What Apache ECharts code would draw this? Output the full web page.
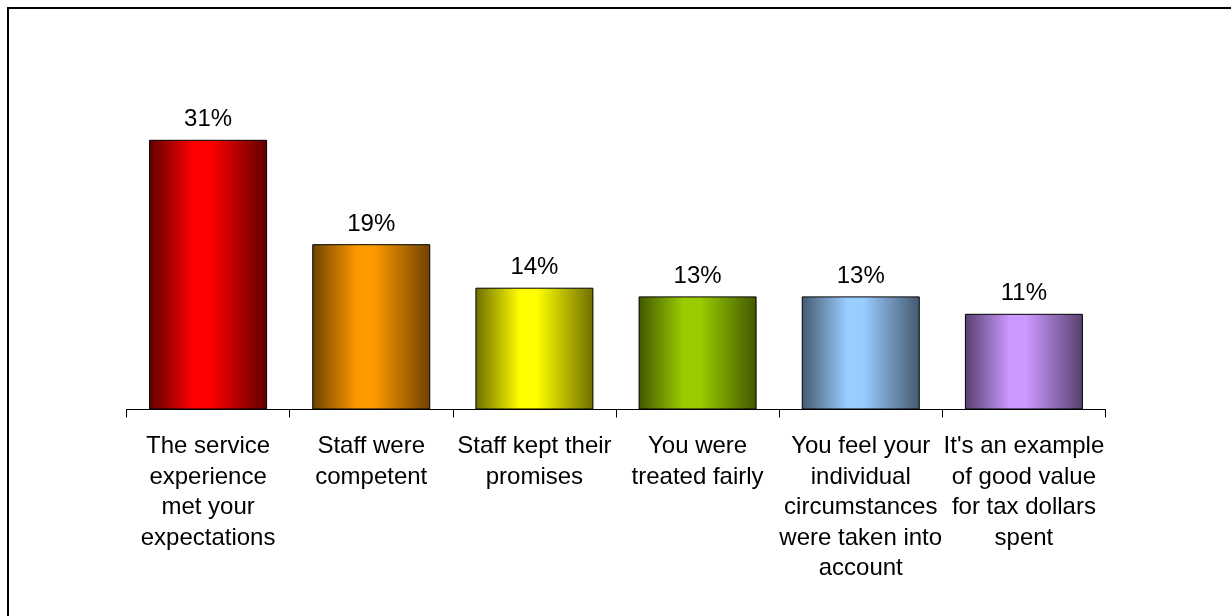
<!DOCTYPE html>
<html>
<head>
<meta charset="utf-8">
<script src="https://cdn.jsdelivr.net/npm/echarts@6/dist/echarts.min.js"></script>
<style>
  html, body { margin: 0; padding: 0; background: #fff; }
  #main { width: 1231px; height: 616px; }
</style>
</head>
<body>
<div id="main"></div>
<script>
const categories = [
  'The service\nexperience\nmet your\nexpectations',
  'Staff were\ncompetent',
  'Staff kept their\npromises',
  'You were\ntreated fairly',
  'You feel your\nindividual\ncircumstances\nwere taken into\naccount',
  "It's an example\nof good value\nfor tax dollars\nspent"
]
const values = [31, 19, 14, 13, 13, 11]
// [edge, centre] colour of each bar
const barColors = [
  ['#600000', '#ff0000'],
  ['#6e4200', '#ff9900'],
  ['#6e6e00', '#ffff00'],
  ['#425800', '#99cc00'],
  ['#45596f', '#99ccff'],
  ['#56406f', '#cc99ff']
]

const shade = (c) => new echarts.graphic.LinearGradient(0, 0, 1, 0, [
  { offset: 0, color: c[0] },
  { offset: 0.38, color: c[1] },
  { offset: 0.52, color: c[1] },
  { offset: 1, color: c[0] }
])

const chart = echarts.init(document.getElementById('main'))
chart.setOption({
  animation: false,
  textStyle: { fontFamily: 'Liberation Sans, Arial, sans-serif' },
  graphic: [{
    type: 'polyline',
    shape: { points: [[8, 616], [8, 8], [1231, 8]] },
    style: { stroke: '#000', lineWidth: 2, fill: null }
  }],
  grid: { left: 126.5, right: 125.5, top: 105, bottom: 206.5 },
  xAxis: {
    type: 'category',
    data: categories,
    axisLine: { lineStyle: { color: '#000', width: 1 } },
    axisTick: { show: true, length: 8, lineStyle: { color: '#000' } },
    axisLabel: {
      color: '#000',
      fontSize: 24,
      lineHeight: 30.5,
      margin: 22,
      interval: 0
    }
  },
  yAxis: {
    type: 'value',
    min: 0,
    max: 35,
    show: false,
    splitLine: { show: false }
  },
  series: [{
    type: 'bar',
    barWidth: 118,
    data: values.map((v, i) => ({
      value: v,
      itemStyle: { color: shade(barColors[i]) }
    })),
    itemStyle: { borderColor: '#000', borderWidth: 1 },
    label: {
      show: true,
      position: 'top',
      distance: 8,
      color: '#000',
      fontSize: 24,
      formatter: '{c}%'
    }
  }]
})
</script>
</body>
</html>
